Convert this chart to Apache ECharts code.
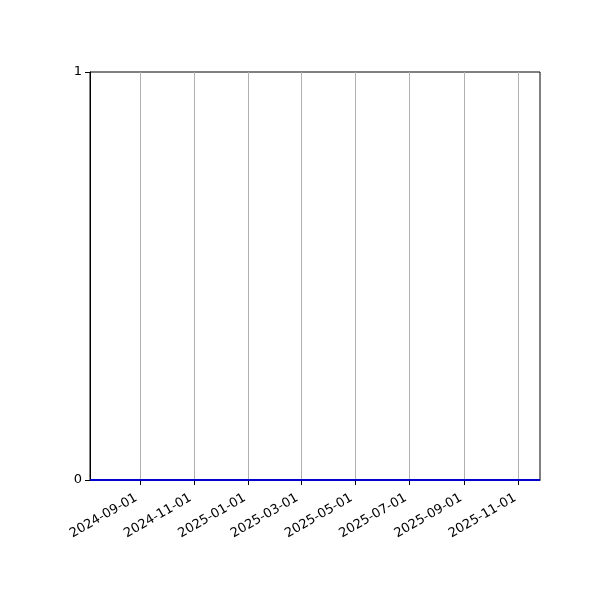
<!DOCTYPE html>
<html><head><meta charset="utf-8">
<script src="https://cdn.jsdelivr.net/npm/echarts@6/dist/echarts.min.js"></script>
<style>html,body{margin:0;padding:0;background:#fff}#c{width:600px;height:600px}</style>
</head><body><div id="c"></div>
<script>
const dates = ['2024-07-07', '2024-09-01', '2024-11-01', '2025-01-01', '2025-03-01', '2025-05-01', '2025-07-01', '2025-09-01', '2025-11-01', '2025-11-25'];
const values = [0, 0, 0, 0, 0, 0, 0, 0, 0, 0];
const xTickLabels = ['2024-09-01', '2024-11-01', '2025-01-01', '2025-03-01', '2025-05-01', '2025-07-01', '2025-09-01', '2025-11-01'];
const yTicks = [0, 1];

const ts = s => Date.parse(s + 'T00:00:00Z');
const pad = n => (n < 10 ? '0' : '') + n;
const fmt = v => { const d = new Date(v); return d.getUTCFullYear() + '-' + pad(d.getUTCMonth() + 1) + '-' + pad(d.getUTCDate()); };

const chart = echarts.init(document.getElementById('c'), null, {renderer: 'canvas'});
chart.setOption({
  animation: false,
  backgroundColor: '#fff',
  grid: {left: 90, right: 60, top: 72, bottom: 120, show: true, borderColor: '#000', borderWidth: 1, containLabel: false},
  xAxis: {
    type: 'value',
    min: ts(dates[0]), max: ts(dates[dates.length - 1]),
    axisLine: {show: true, onZero: false, lineStyle: {color: '#000', width: 1}},
    axisTick: {show: true, inside: false, length: 5, lineStyle: {color: '#000'}, customValues: xTickLabels.map(ts)},
    axisLabel: {customValues: xTickLabels.map(ts), formatter: v => fmt(v), rotate: 30, color: '#000', fontFamily: 'DejaVu Sans', fontSize: 13, margin: 15, padding: [0, 4, 0, 0], hideOverlap: false},
    splitLine: {show: true, lineStyle: {color: '#b0b0b0', width: 1}}
  },
  yAxis: {
    type: 'value', min: 0, max: 1, interval: 1,
    axisLine: {show: true, lineStyle: {color: '#000', width: 1}},
    axisTick: {show: true, length: 5, lineStyle: {color: '#000'}, customValues: yTicks},
    axisLabel: {customValues: yTicks, color: '#000', fontFamily: 'DejaVu Sans', fontSize: 13, margin: 8},
    splitLine: {show: false}
  },
  series: [{
    type: 'line',
    data: dates.map((d, i) => [ts(d), values[i]]),
    showSymbol: false,
    lineStyle: {color: '#0000cc', width: 2},
    z: 1
  }]
});
</script></body></html>
